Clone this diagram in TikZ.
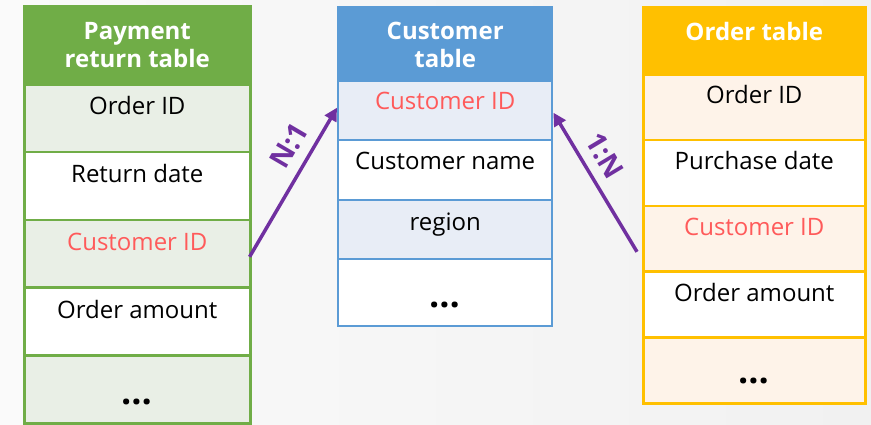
\documentclass[tikz,border=0pt]{standalone}
\usepackage{fontspec}
\setmainfont{Open Sans}
\usetikzlibrary{arrows.meta,calc}

\definecolor{bgL}{HTML}{FAFAFA}
\definecolor{bgR}{HTML}{F1F1F1}
\definecolor{gHead}{HTML}{70AD47}
\definecolor{gLight}{HTML}{E9EFE6}
\definecolor{bHead}{HTML}{5B9BD5}
\definecolor{bLight}{HTML}{E8EDF6}
\definecolor{oHead}{HTML}{FFC000}
\definecolor{oLight}{HTML}{FEF3E9}
\definecolor{keyRed}{HTML}{FF5A5A}
\definecolor{relPurple}{HTML}{7030A0}

\tikzset{
  cellbox/.style={rectangle, draw, inner sep=0pt, anchor=north west},
  headtext/.style={text=white, font=\fontsize{24}{28}\selectfont\bfseries, align=center, inner sep=0pt, anchor=north},
  bodytext/.style={text=black, font=\fontsize{24}{28}\selectfont, inner sep=0pt, anchor=base},
  keytext/.style={bodytext, text=keyRed},
  moretext/.style={bodytext, font=\fontsize{36}{40}\selectfont\bfseries},
  relarrow/.style={draw=relPurple, line width=3.5pt, -{Triangle[length=13pt,width=13pt]}},
  rellabel/.style={text=relPurple, font=\fontsize{28}{30}\selectfont\bfseries, sloped, above=10pt, inner sep=0pt},
}

\begin{document}
\begin{tikzpicture}[x=1pt,y=-1pt]
  % backdrop
  \shade[left color=bgL, right color=bgR] (0,0) rectangle (871,425);
  \useasboundingbox (0,0) rectangle (871,425);

  % ---- Payment return table ----
  \tikzset{gcell/.style={cellbox, draw=gHead, line width=2.6pt, minimum width=226pt}}
  \node[gcell, fill=gHead, minimum height=78pt] (lh) at (23,5) {};
  \node[gcell, fill=gLight, minimum height=67.8pt] (l1) at (23,83) {};
  \node[gcell, fill=white,  minimum height=67.8pt] (l2) at (23,150.8) {};
  \node[gcell, fill=gLight, minimum height=67.8pt] (l3) at (23,218.6) {};
  \node[gcell, fill=white,  minimum height=67.8pt] (l4) at (23,286.4) {};
  \node[gcell, fill=gLight, minimum height=67.8pt] (l5) at (23,354.2) {};
  \node[headtext] (lht) at ([yshift=-17pt]lh.north) {Payment\\return table};
  \node[bodytext] (l1t) at ([yshift=-32pt]l1.north) {Order ID};
  \node[bodytext] (l2t) at ([yshift=-32pt]l2.north) {Return date};
  \node[keytext]  (l3t) at ([yshift=-32pt]l3.north) {Customer ID};
  \node[bodytext] (l4t) at ([yshift=-32pt]l4.north) {Order amount};
  \node[moretext] (l5t) at ([yshift=-50pt]l5.north) {…};

  % ---- Customer table ----
  \tikzset{bcell/.style={cellbox, draw=bHead, line width=2.4pt, minimum width=214pt}}
  \node[bcell, fill=bHead,  minimum height=74pt] (mh) at (337,6) {};
  \node[bcell, fill=bLight, minimum height=59pt] (m1) at (337,80) {};
  \node[bcell, fill=white,  minimum height=60pt] (m2) at (337,139) {};
  \node[bcell, fill=bLight, minimum height=59pt] (m3) at (337,199) {};
  \node[bcell, fill=white,  minimum height=67pt] (m4) at (337,258) {};
  \node[headtext] (mht) at ([yshift=-16pt]mh.north) {Customer\\table};
  \node[keytext]  (m1t) at ([yshift=-30pt]m1.north) {Customer ID};
  \node[bodytext] (m2t) at ([yshift=-31pt]m2.north) {Customer name};
  \node[bodytext] (m3t) at ([yshift=-31pt]m3.north) {region};
  \node[moretext] (m4t) at ([yshift=-49pt]m4.north) {…};

  % ---- Order table ----
  \tikzset{ocell/.style={cellbox, draw=oHead, line width=2.6pt, minimum width=222pt}}
  \node[ocell, fill=oHead,  minimum height=67pt] (rh) at (642,6) {};
  \node[ocell, fill=oLight, minimum height=65.8pt] (r1) at (642,73) {};
  \node[ocell, fill=white,  minimum height=65.8pt] (r2) at (642,138.8) {};
  \node[ocell, fill=oLight, minimum height=65.8pt] (r3) at (642,204.6) {};
  \node[ocell, fill=white,  minimum height=65.8pt] (r4) at (642,270.4) {};
  \node[ocell, fill=oLight, minimum height=65.8pt] (r5) at (642,336.2) {};
  \node[headtext] (rht) at ([yshift=-16pt]rh.north) {Order table};
  \node[bodytext] (r1t) at ([yshift=-31pt]r1.north) {Order ID};
  \node[bodytext] (r2t) at ([yshift=-31pt]r2.north) {Purchase date};
  \node[keytext]  (r3t) at ([yshift=-31pt]r3.north) {Customer ID};
  \node[bodytext] (r4t) at ([yshift=-31pt]r4.north) {Order amount};
  \node[moretext] (r5t) at ([yshift=-47pt]r5.north) {…};

  % ---- relations ----
  \draw[relarrow] ([xshift=-2pt,yshift=-3pt]l3.east) -- ([yshift=3pt]m1.west)
    node[rellabel, pos=0.67] (n1) {N:1};
  \draw[relarrow] ([xshift=-5pt,yshift=-13pt]r3.west) -- ([yshift=-2pt]m1.east)
    node[rellabel, pos=0.61] (n2) {1:N};
\end{tikzpicture}
\end{document}
